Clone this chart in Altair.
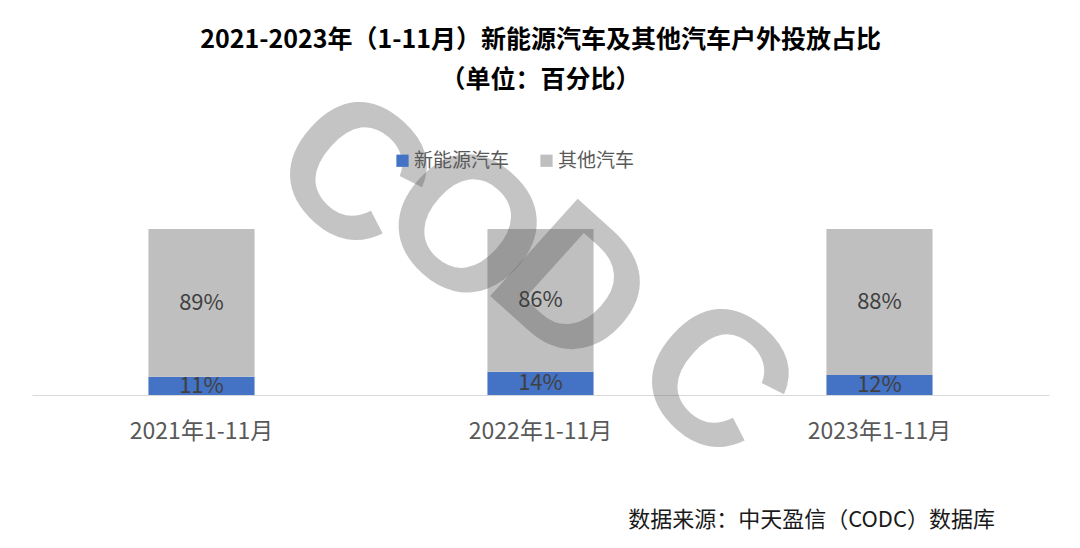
import altair as alt
import pandas as pd

# ---- data ----
periods = ["2021年1-11月", "2022年1-11月", "2023年1-11月"]
series = ["新能源汽车", "其他汽车"]
nev_share = [11, 14, 12]
other_share = [89, 86, 88]
colors = ["#4472C4", "#BFBFBF"]

title_lines = ["2021-2023年（1-11月）新能源汽车及其他汽车户外投放占比", "（单位：百分比）"]
source_note = ["数据来源：中天盈信（CODC）数据库"]
watermark_letters = ["C", "O", "D", "C"]

rows = []
for p, a, b in zip(periods, nev_share, other_share):
    rows.append({"period": p, "series": series[0], "pct": a, "ord": 0, "mid": a / 2, "label": f"{a}%"})
    rows.append({"period": p, "series": series[1], "pct": b, "ord": 1, "mid": a + b / 2, "label": f"{b}%"})
df = pd.DataFrame(rows)

FONT = "Noto Sans CJK SC"

x_enc = alt.X(
    "period:N",
    sort=periods,
    scale=alt.Scale(paddingInner=0.687, paddingOuter=0.3435),
    axis=alt.Axis(
        title=None,
        labelAngle=0,
        labelFont=FONT,
        labelFontSize=23,
        labelColor="#595959",
        labelPadding=25,
        ticks=False,
        tickSize=0,
        domainColor="#D9D9D9",
        domainWidth=1,
        grid=False,
    ),
)

bars = alt.Chart(df).mark_bar().encode(
    x=x_enc,
    y=alt.Y("pct:Q", stack="zero", scale=alt.Scale(domain=[0, 100], nice=False), axis=None),
    color=alt.Color(
        "series:N",
        scale=alt.Scale(domain=series, range=colors),
        legend=alt.Legend(
            title=None,
            orient="none",
            direction="horizontal",
            legendX=361,
            legendY=-78,
            symbolType="square",
            symbolSize=150,
            symbolStrokeWidth=0,
            labelFont=FONT,
            labelFontSize=19,
            labelColor="#595959",
            labelOffset=2,
            columnPadding=27,
            padding=0,
        ),
    ),
    order=alt.Order("ord:Q"),
)

# watermark letters (decoration), placed individually
wm_pos = [(318, -54), (430, 1), (538, 62), (680, 153)]
wm_layers = []
for letter, (px, py) in zip(watermark_letters, wm_pos):
    wm_layers.append(
        alt.Chart(pd.DataFrame({"t": [letter]})).mark_text(
            font="Liberation Sans",
            fontWeight="bold",
            fontSize=190,
            angle=42,
            align="center",
            baseline="middle",
            color="#4F4F4F",
            opacity=0.33,
        ).encode(text="t:N", x=alt.value(px), y=alt.value(py))
    )

labels = alt.Chart(df).mark_text(
    font=FONT, fontSize=22, color="#404040", baseline="middle"
).encode(
    x=alt.X("period:N", sort=periods),
    y=alt.Y("mid:Q"),
    text="label:N",
)

source = alt.Chart(pd.DataFrame({"s": source_note})).mark_text(
    font=FONT, fontSize=22, color="#1A1A1A", align="right", baseline="middle"
).encode(text="s:N", x=alt.value(963), y=alt.value(291))

chart = (
    alt.layer(bars, *wm_layers, labels, source)
    .properties(
        width=1017,
        height=166,
        autosize=alt.AutoSizeParams(type="none"),
        padding={"left": 24, "top": 221, "right": 23, "bottom": 145},
        title=alt.TitleParams(
            text=title_lines,
            font=FONT,
            fontSize=25,
            fontWeight="bold",
            color="#000000",
            lineHeight=40,
            anchor="middle",
            offset=-35,
        ),
    )
    .configure(background="white", view=alt.ViewConfig(strokeWidth=0, stroke="transparent"))
)

chart.save("out.html", embed_options={"renderer": "svg", "actions": False})
